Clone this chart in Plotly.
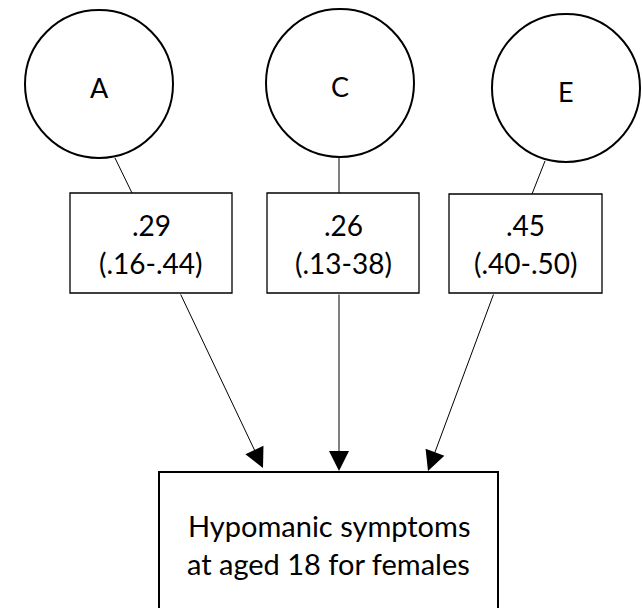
import plotly.graph_objects as go

# ---- data ----
factors = ["A", "C", "E"]
estimates = [0.29, 0.26, 0.45]
ci_labels = ["(.16-.44)", "(.13-38)", "(.40-.50)"]
outcome_lines = ["Hypomanic symptoms", "at aged 18 for females"]

# ---- layout (pixel coordinates of the diagram) ----
W, H = 642, 608
circle_cx = [99, 340, 566]
circle_cy = [84, 83, 88]
circle_r = 74
box_x0 = [70, 267, 449]
box_x1 = [232, 419, 602]
box_y0 = [193, 193, 194]
box_y1 = [293, 293, 293]
link_top = [(115, 158), (339, 158), (545, 161)]
link_bot = [(132, 193), (339, 193), (532, 194)]
arrow_tail = [(180, 293), (339, 293), (494, 293)]
arrow_tip = [(263, 468), (339, 471), (428, 471)]
out_x0, out_x1, out_y0, out_y1 = 159, 498, 472, 640
out_text_y = [525, 563]

FONT = "Lato, Open Sans, sans-serif"

fig = go.Figure()
shapes = []
annotations = []

def fmt(v):
    return ("%.2f" % v).lstrip("0")

for i, f in enumerate(factors):
    cx, cy = circle_cx[i], circle_cy[i]
    shapes.append(dict(type="circle", xref="x", yref="y",
                       x0=cx - circle_r, x1=cx + circle_r,
                       y0=cy - circle_r, y1=cy + circle_r,
                       line=dict(color="black", width=2), fillcolor="white"))
    annotations.append(dict(x=cx, y=cy + 3, xref="x", yref="y", text=f,
                            showarrow=False, font=dict(family=FONT, size=27, color="black")))
    # connector circle -> box
    shapes.append(dict(type="line", xref="x", yref="y",
                       x0=link_top[i][0], y0=link_top[i][1],
                       x1=link_bot[i][0], y1=link_bot[i][1],
                       line=dict(color="black", width=1)))
    # estimate box
    shapes.append(dict(type="rect", xref="x", yref="y",
                       x0=box_x0[i], x1=box_x1[i], y0=box_y0[i], y1=box_y1[i],
                       line=dict(color="black", width=1.3), fillcolor="white"))
    bx = (box_x0[i] + box_x1[i]) / 2
    annotations.append(dict(x=bx, y=225, xref="x", yref="y", text=fmt(estimates[i]),
                            showarrow=False, font=dict(family=FONT, size=28, color="black")))
    annotations.append(dict(x=bx, y=263, xref="x", yref="y", text=ci_labels[i],
                            showarrow=False, font=dict(family=FONT, size=28, color="black")))
    # arrow box -> outcome
    annotations.append(dict(x=arrow_tip[i][0], y=arrow_tip[i][1], xref="x", yref="y",
                            ax=arrow_tail[i][0], ay=arrow_tail[i][1], axref="x", ayref="y",
                            text="", showarrow=True, arrowhead=2, arrowsize=4,
                            arrowwidth=1, arrowcolor="black", standoff=0))

# outcome box
shapes.append(dict(type="rect", xref="x", yref="y",
                   x0=out_x0, x1=out_x1, y0=out_y0, y1=out_y1,
                   line=dict(color="black", width=2), fillcolor="white", layer="below"))
ox = (out_x0 + out_x1) / 2
for t, yy in zip(outcome_lines, out_text_y):
    annotations.append(dict(x=ox, y=yy, xref="x", yref="y", text=t, showarrow=False,
                            font=dict(family=FONT, size=29, color="black")))

fig.update_layout(
    width=W, height=H,
    margin=dict(l=0, r=0, t=0, b=0),
    paper_bgcolor="white", plot_bgcolor="white",
    xaxis=dict(range=[0, W], visible=False, fixedrange=True),
    yaxis=dict(range=[H, 0], visible=False, fixedrange=True),
    shapes=shapes, annotations=annotations, showlegend=False,
)
fig.write_html("out.html", config={"displayModeBar": False},
               post_script="document.body.style.margin='0';document.body.style.overflow='hidden';")
